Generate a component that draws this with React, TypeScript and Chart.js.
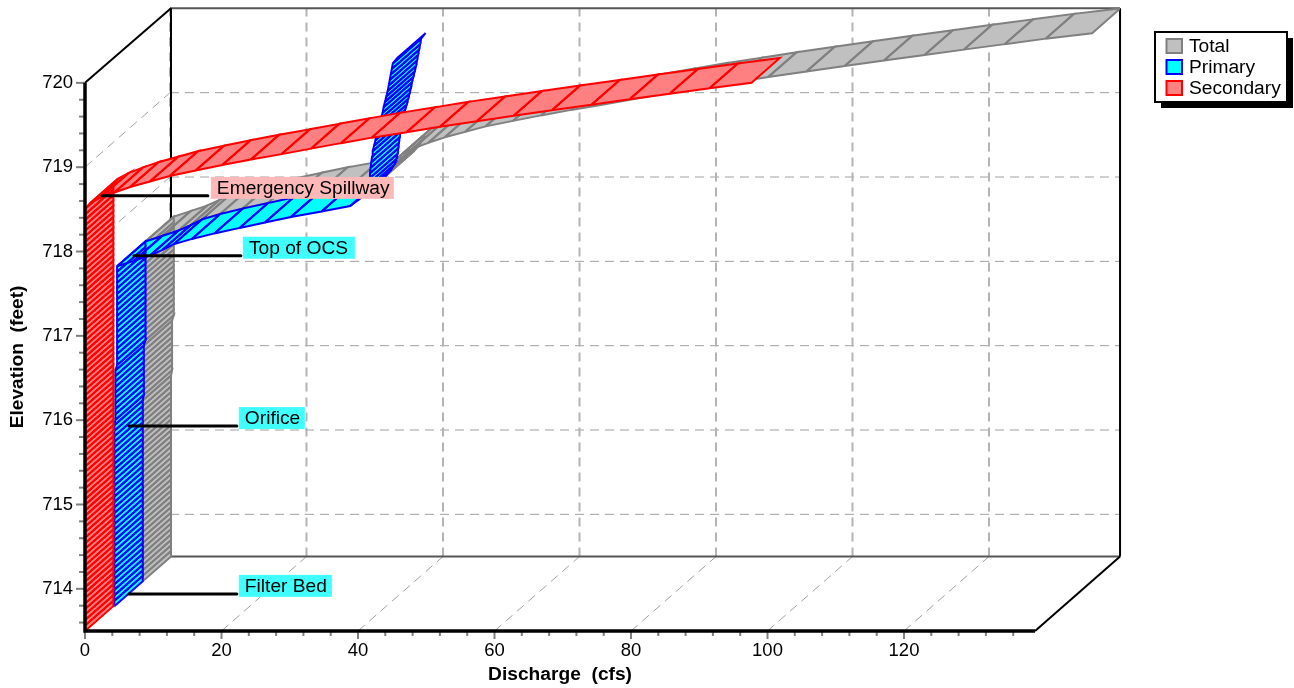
import React, { useEffect, useRef } from "react";
import { Chart, registerables } from "chart.js";

Chart.register(...registerables);

const elevations = [
  713.5, 713.565, 713.63, 713.695, 713.76, 713.825, 713.89, 713.955, 714.02, 714.085,
  714.15, 714.215, 714.28, 714.345, 714.41, 714.475, 714.54, 714.605, 714.67, 714.735,
  714.8, 714.865, 714.93, 714.995, 715.06, 715.125, 715.19, 715.255, 715.32, 715.385,
  715.45, 715.515, 715.58, 715.645, 715.71, 715.775, 715.84, 715.905, 715.97, 716.035,
  716.1, 716.165, 716.23, 716.295, 716.36, 716.425, 716.49, 716.555, 716.62, 716.685,
  716.75, 716.815, 716.88, 716.945, 717.01, 717.075, 717.14, 717.205, 717.27, 717.335,
  717.4, 717.465, 717.53, 717.595, 717.66, 717.725, 717.79, 717.855, 717.92, 717.985,
  718.05, 718.115, 718.18, 718.245, 718.31, 718.375, 718.44, 718.505, 718.57, 718.635,
  718.7, 718.765, 718.83, 718.895, 718.96, 719.025, 719.09, 719.155, 719.22, 719.285,
  719.35, 719.415, 719.48, 719.545, 719.61, 719.675, 719.74, 719.805, 719.87, 719.935,
  720,
];

const primary = [
  0.15, 0.15, 0.15, 0.15, 0.15, 0.15, 0.15, 0.15, 0.15, 0.15,
  0.15, 0.15, 0.15, 0.15, 0.15, 0.15, 0.15, 0.15, 0.15, 0.15,
  0.15, 0.15, 0.15, 0.15, 0.15, 0.15, 0.15, 0.15, 0.15, 0.15,
  0.15, 0.15, 0.15, 0.15, 0.3, 0.3, 0.3, 0.3, 0.3, 0.3,
  0.3, 0.3, 0.3, 0.3, 0.55, 0.55, 0.55, 0.55, 0.55, 0.55,
  0.55, 0.55, 0.55, 0.55, 0.55, 0.55, 0.55, 0.55, 0.55, 0.55,
  0.55, 0.55, 0.55, 3, 5.4, 7.2, 8.8, 11.5, 14.8, 18.5,
  22.2, 26, 30.5, 34.7, 35.8, 36.5, 37, 37.3, 37.5, 37.6,
  37.7, 37.8, 37.9, 38, 38.2, 38.4, 38.6, 38.85, 39.05, 39.25,
  39.45, 39.6, 39.8, 40, 40.2, 40.35, 40.5, 40.65, 40.8, 40.95,
  41.6,
];

const secondary = [
  0, 0, 0, 0, 0, 0, 0, 0, 0, 0,
  0, 0, 0, 0, 0, 0, 0, 0, 0, 0,
  0, 0, 0, 0, 0, 0, 0, 0, 0, 0,
  0, 0, 0, 0, 0, 0, 0, 0, 0, 0,
  0, 0, 0, 0, 0, 0, 0, 0, 0, 0,
  0, 0, 0, 0, 0, 0, 0, 0, 0, 0,
  0, 0, 0, 0, 0, 0, 0, 0, 0, 0,
  0, 0, 0, 0, 0, 0, 0, 0, 0.7, 2.2,
  4.3, 6.6, 9.5, 12.4, 16.2, 20.1, 24.3, 28.8, 33.1, 37.5,
  42, 47.1, 52, 57.4, 62.8, 68.4, 74.2, 79.8, 85.65, 91.5,
  97.66,
];

const total = [
  0.15, 0.15, 0.15, 0.15, 0.15, 0.15, 0.15, 0.15, 0.15, 0.15,
  0.15, 0.15, 0.15, 0.15, 0.15, 0.15, 0.15, 0.15, 0.15, 0.15,
  0.15, 0.15, 0.15, 0.15, 0.15, 0.15, 0.15, 0.15, 0.15, 0.15,
  0.15, 0.15, 0.15, 0.15, 0.3, 0.3, 0.3, 0.3, 0.3, 0.3,
  0.3, 0.3, 0.3, 0.3, 0.55, 0.55, 0.55, 0.55, 0.55, 0.55,
  0.55, 0.55, 0.55, 0.55, 0.55, 0.55, 0.55, 0.55, 0.55, 0.55,
  0.55, 0.55, 0.55, 3, 5.4, 7.2, 8.8, 11.5, 14.8, 18.5,
  22.2, 26, 30.5, 34.7, 35.8, 36.5, 37, 37.3, 38.2, 39.8,
  42, 44.4, 47.4, 50.4, 54.4, 58.5, 62.9, 67.65, 72.15, 76.75,
  81.45, 86.7, 91.8, 97.4, 103, 108.75, 114.7, 120.45, 126.45, 132.45,
  139.26,
];

const xTicks = [0, 4, 8, 12, 16, 20, 24, 28, 32, 36, 40, 44, 48, 52, 56, 60, 64, 68, 72, 76, 80, 84, 88, 92, 96, 100, 104, 108, 112, 116, 120, 124, 128, 132, 136];
const xLabelled = [0, 20, 40, 60, 80, 100, 120];
const xGridValues = [0, 20, 40, 60, 80, 100, 120];
const yTicks = [713.6, 713.8, 714, 714.2, 714.4, 714.6, 714.8, 715, 715.2, 715.4, 715.6, 715.8, 716, 716.2, 716.4, 716.6, 716.8, 717, 717.2, 717.4, 717.6, 717.8, 718, 718.2, 718.4, 718.6, 718.8, 719, 719.2, 719.4, 719.6, 719.8, 720];
const yLabelled = [714, 715, 716, 717, 718, 719, 720];
const seriesNames = ["Total", "Primary", "Secondary"];
const seriesLayers = [2, 1, 0];
const strokeColours = ["#808080", "#0000FF", "#FF0000"];
const fillColours = ["#C0C0C0", "#00FFFF", "#FF8080"];

const callouts = [
  { text: "Emergency Spillway", q0: 2.49, q1: 18, el: 718.66, fill: "#FFB8B8", gap: 3, boxW: 183 },
  { text: "Top of OCS", q0: 7.17, q1: 22.84, el: 717.95, fill: "#40FFFF", gap: 2, boxW: 112 },
  { text: "Orifice", q0: 6.44, q1: 22.25, el: 715.93, fill: "#40FFFF", gap: 2, boxW: 66 },
  { text: "Filter Bed", q0: 6.44, q1: 22.25, el: 713.94, fill: "#40FFFF", gap: 2, boxW: 93 },
];

const FONT = '"Liberation Sans", Arial, sans-serif';
const PX_PER_Q = 6.825;
const PX_PER_EL = 84.33;
const xAxisEnd = 139.2;
const yAxisMin = 713.5;
const yAxisTop = 720;
const depthQ = 85 / PX_PER_Q;
const depthEl = 74.5 / PX_PER_EL;
const xMax = 1035 / PX_PER_Q;
const yMax = yAxisMin + 623 / PX_PER_EL;

function ribbonDatasets() {
  const out: any[] = [];
  [total, primary, secondary].forEach((values, s) => {
    const f0 = seriesLayers[s] / 3;
    const f1 = (seriesLayers[s] + 1) / 3;
    const quads: any[][] = [];
    for (let i = 0; i < values.length - 1; i++) {
      const a = { x: values[i] + f0 * depthQ, y: elevations[i] + f0 * depthEl };
      const b = { x: values[i + 1] + f0 * depthQ, y: elevations[i + 1] + f0 * depthEl };
      const c = { x: values[i + 1] + f1 * depthQ, y: elevations[i + 1] + f1 * depthEl };
      const d = { x: values[i] + f1 * depthQ, y: elevations[i] + f1 * depthEl };
      quads.push([a, b, c, d, a]);
    }
    // every panel's fill first, then every panel's outline on top of all fills
    quads.forEach((data) =>
      out.push({
        label: seriesNames[s],
        data,
        showLine: true,
        fill: "shape",
        backgroundColor: fillColours[s],
        borderColor: "transparent",
        borderWidth: 0,
        pointRadius: 0,
        tension: 0,
      }),
    );
    quads.forEach((data) =>
      out.push({
        label: seriesNames[s],
        data,
        showLine: true,
        fill: false,
        borderColor: strokeColours[s],
        borderWidth: 2,
        pointRadius: 0,
        borderJoinStyle: "miter",
        tension: 0,
      }),
    );
  });
  const n = out.length;
  out.forEach((d, i) => (d.order = n - i));
  return out;
}

const framePlugin = {
  id: "frame3d",
  beforeDatasetsDraw(chart: any) {
    const { ctx, scales } = chart;
    const X = (v: number) => scales.x.getPixelForValue(v);
    const Y = (v: number) => scales.y.getPixelForValue(v);
    const seg = (x0: number, y0: number, x1: number, y1: number) => {
      ctx.beginPath();
      ctx.moveTo(x0, y0);
      ctx.lineTo(x1, y1);
      ctx.stroke();
    };
    ctx.save();
    ctx.strokeStyle = "#A0A0A0";

    // wall grid
    ctx.lineWidth = 1;
    ctx.setLineDash([9, 6]);
    yLabelled.forEach((v) => {
      if (v < yAxisTop) seg(X(depthQ), Y(v + depthEl), X(xAxisEnd + depthQ), Y(v + depthEl));
      if (v < yAxisTop) seg(X(0), Y(v), X(depthQ), Y(v + depthEl));
    });
    xGridValues.forEach((v) => {
      if (v > 0) seg(X(v), Y(yAxisMin), X(v + depthQ), Y(yAxisMin + depthEl));
    });
    ctx.lineWidth = 2;
    ctx.strokeStyle = "#B4B4B4";
    xGridValues.forEach((v) => seg(X(v + depthQ), Y(yAxisMin + depthEl), X(v + depthQ), Y(yAxisTop + depthEl)));
    ctx.setLineDash([]);

    // back wall and edges
    ctx.strokeStyle = "#555";
    ctx.lineWidth = 2;
    seg(X(depthQ), Y(yAxisMin + depthEl), X(xAxisEnd + depthQ), Y(yAxisMin + depthEl));
    seg(X(depthQ), Y(yAxisTop + depthEl), X(xAxisEnd + depthQ), Y(yAxisTop + depthEl));
    ctx.strokeStyle = "#000";
    seg(X(depthQ) + 1, Y(yAxisMin + depthEl), X(depthQ) + 1, Y(yAxisTop + depthEl));
    seg(X(xAxisEnd + depthQ), Y(yAxisMin + depthEl), X(xAxisEnd + depthQ), Y(yAxisTop + depthEl));
    seg(X(0), Y(yAxisTop), X(depthQ) + 1, Y(yAxisTop + depthEl));
    seg(X(xAxisEnd), Y(yAxisMin), X(xAxisEnd + depthQ), Y(yAxisMin + depthEl));
    ctx.restore();
  },
  afterDatasetsDraw(chart: any) {
    const { ctx, scales } = chart;
    const X = (v: number) => scales.x.getPixelForValue(v);
    const Y = (v: number) => scales.y.getPixelForValue(v);
    ctx.save();

    // ticks
    ctx.strokeStyle = "#808080";
    ctx.lineWidth = 2;
    xTicks.forEach((v) => {
      const len = xLabelled.includes(v) ? 8 : 5;
      ctx.beginPath();
      ctx.moveTo(X(v), Y(yAxisMin));
      ctx.lineTo(X(v), Y(yAxisMin) + len);
      ctx.stroke();
    });
    yTicks.forEach((v) => {
      const len = yLabelled.includes(v) ? 9 : 6;
      ctx.beginPath();
      ctx.moveTo(X(0), Y(v));
      ctx.lineTo(X(0) - len, Y(v));
      ctx.stroke();
    });

    // thick front axes
    ctx.strokeStyle = "#000";
    ctx.lineWidth = 3.5;
    ctx.beginPath();
    ctx.moveTo(X(0), Y(yAxisTop));
    ctx.lineTo(X(0), Y(yAxisMin));
    ctx.lineTo(X(xAxisEnd), Y(yAxisMin));
    ctx.stroke();

    // callouts
    ctx.font = `19.2px ${FONT}`;
    ctx.textBaseline = "middle";
    ctx.textAlign = "left";
    callouts.forEach((c) => {
      const y = Y(c.el);
      const x1 = X(c.q1);
      ctx.strokeStyle = "#000";
      ctx.lineWidth = 3;
      ctx.lineCap = "round";
      ctx.beginPath();
      ctx.moveTo(X(c.q0), y);
      ctx.lineTo(x1, y);
      ctx.stroke();
      const bx = x1 + c.gap;
      ctx.fillStyle = c.fill;
      ctx.fillRect(bx, y - 19, c.boxW, 22);
      ctx.fillStyle = "#000";
      ctx.fillText(c.text, bx + 6, y - 7);
    });

    // axis titles
    ctx.font = `bold 19.2px ${FONT}`;
    ctx.textAlign = "center";
    ctx.fillStyle = "#000";
    ctx.fillText("Discharge  (cfs)", (X(0) + X(xAxisEnd)) / 2, 675);
    ctx.save();
    ctx.translate(18, (Y(yAxisMin) + Y(yAxisTop)) / 2);
    ctx.rotate(-Math.PI / 2);
    ctx.fillText("Elevation  (feet)", 0, 0);
    ctx.restore();

    // legend
    ctx.fillStyle = "#000";
    ctx.fillRect(1161, 38, 132, 70);
    ctx.fillStyle = "#fff";
    ctx.fillRect(1155, 32, 132, 70);
    ctx.strokeStyle = "#000";
    ctx.lineWidth = 2;
    ctx.strokeRect(1155, 32, 132, 70);
    ctx.font = `19.2px ${FONT}`;
    ctx.textAlign = "left";
    seriesNames.forEach((name, i) => {
      const y = 46 + i * 21;
      ctx.fillStyle = fillColours[i];
      ctx.fillRect(1166.5, y - 7, 15.5, 14);
      ctx.strokeStyle = strokeColours[i];
      ctx.lineWidth = 2;
      ctx.strokeRect(1166.5, y - 7, 15.5, 14);
      ctx.fillStyle = "#000";
      ctx.fillText(name, 1189, y + 1);
    });
    ctx.restore();
  },
};

const noPadding = (s: any) => {
  s.paddingTop = 0;
  s.paddingBottom = 0;
  s.paddingLeft = 0;
  s.paddingRight = 0;
};

export default function App() {
  const ref = useRef<HTMLCanvasElement>(null);
  useEffect(() => {
    const chart = new Chart(ref.current as HTMLCanvasElement, {
      type: "scatter",
      data: { datasets: ribbonDatasets() },
      plugins: [framePlugin],
      options: {
        animation: false,
        responsive: false,
        devicePixelRatio: 1,
        layout: { padding: { left: 0, right: 174, top: 8, bottom: 0 } },
        plugins: { legend: { display: false }, tooltip: { enabled: false } },
        scales: {
          x: {
            type: "linear",
            min: 0,
            max: xMax,
            afterFit(s: any) { s.height = 57; noPadding(s); },
            afterBuildTicks(s: any) { s.ticks = xTicks.map((value) => ({ value })); },
            grid: { drawOnChartArea: false, tickColor: "transparent", tickLength: 8 },
            border: { display: false },
            ticks: {
              autoSkip: false,
              maxRotation: 0,
              padding: 1,
              color: "#000",
              font: { family: FONT, size: 18.5 },
              callback: (v: any) => (xLabelled.includes(Number(v)) ? String(v) : ""),
            },
          },
          y: {
            type: "linear",
            min: yAxisMin,
            max: yMax,
            afterFit(s: any) { s.width = 85; noPadding(s); },
            afterBuildTicks(s: any) { s.ticks = yTicks.map((value) => ({ value })); },
            grid: { drawOnChartArea: false, tickColor: "transparent", tickLength: 8 },
            border: { display: false },
            ticks: {
              autoSkip: false,
              padding: 4,
              color: "#000",
              font: { family: FONT, size: 18.5 },
              callback: (v: any) => (yLabelled.includes(Number(v)) ? String(v) : ""),
            },
          },
        },
      },
    } as any);
    return () => chart.destroy();
  }, []);
  return (
    <div style={{ position: "fixed", left: 0, top: 0, width: 1294, height: 688, background: "#fff" }}>
      <canvas ref={ref} width={1294} height={688} style={{ display: "block" }} />
    </div>
  );
}
